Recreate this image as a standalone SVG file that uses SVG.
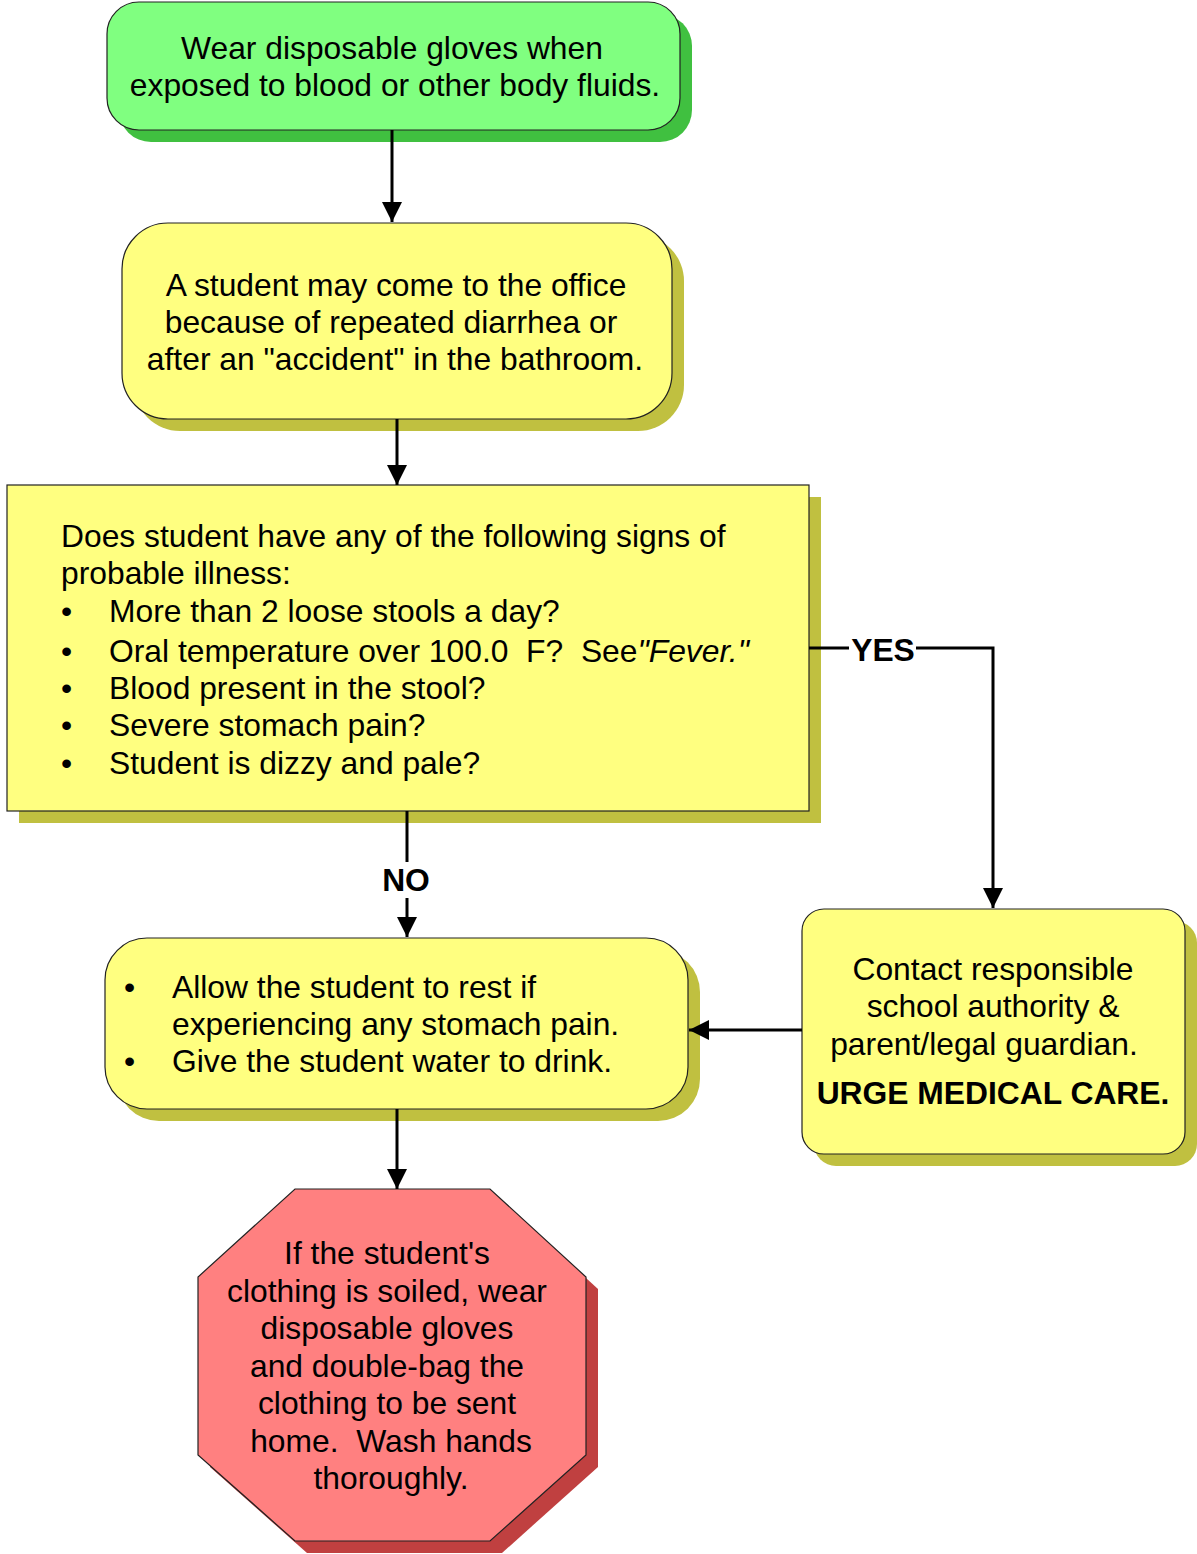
<svg xmlns="http://www.w3.org/2000/svg" width="1197" height="1554" viewBox="0 0 1197 1554">
<defs>
<style>
.t{font-family:"Liberation Sans",Arial,sans-serif;font-size:31.8px;fill:#000}
.c{text-anchor:middle}
.b{font-weight:bold}
.edge{stroke:#000;stroke-width:3;fill:none}
.bd{stroke:#222;stroke-width:1.2}
</style>
<marker id="ah" viewBox="0 0 20 20" refX="20" refY="10" markerWidth="20" markerHeight="20" markerUnits="userSpaceOnUse" orient="auto">
<path d="M0,0 L20,10 L0,20 Z" fill="#000"/>
</marker>
</defs>
<rect width="1197" height="1554" fill="#fff"/>

<g id="node-gloves">
<rect x="119" y="14" width="573" height="128" rx="32" fill="#40C040"/>
<rect x="107" y="2" width="573" height="128" rx="32" fill="#80FF80" class="bd"/>
<text class="t c" x="392" y="59">Wear disposable gloves when</text>
<text class="t c" x="395" y="96">exposed to blood or other body fluids.</text>
</g>

<g id="node-office">
<rect x="134" y="235" width="550" height="196" rx="46" fill="#C0C040"/>
<rect x="122" y="223" width="550" height="196" rx="46" fill="#FFFF80" class="bd"/>
<text class="t c" x="396" y="296">A student may come to the office</text>
<text class="t c" x="391" y="333">because of repeated diarrhea or</text>
<text class="t c" x="395" y="370">after an "accident" in the bathroom.</text>
</g>

<g id="node-signs">
<rect x="19" y="497" width="802" height="326" fill="#C0C040"/>
<rect x="7" y="485" width="802" height="326" fill="#FFFF80" class="bd"/>
<text class="t" x="61" y="547">Does student have any of the following signs of</text>
<text class="t" x="61" y="584">probable illness:</text>
<text class="t" x="61" y="622">•</text><text class="t" x="109" y="622">More than 2 loose stools a day?</text>
<text class="t" x="61" y="662">•</text><text class="t" x="109" y="662" xml:space="preserve">Oral temperature over 100.0  F?  See<tspan font-style="italic">"Fever."</tspan></text>
<text class="t" x="61" y="699">•</text><text class="t" x="109" y="699">Blood present in the stool?</text>
<text class="t" x="61" y="736">•</text><text class="t" x="109" y="736">Severe stomach pain?</text>
<text class="t" x="61" y="774">•</text><text class="t" x="109" y="774">Student is dizzy and pale?</text>
</g>

<g id="node-rest">
<rect x="117" y="950" width="583" height="171" rx="42" fill="#C0C040"/>
<rect x="105" y="938" width="583" height="171" rx="42" fill="#FFFF80" class="bd"/>
<text class="t" x="124" y="998">•</text><text class="t" x="172" y="998">Allow the student to rest if</text>
<text class="t" x="172" y="1035">experiencing any stomach pain.</text>
<text class="t" x="124" y="1072">•</text><text class="t" x="172" y="1072">Give the student water to drink.</text>
</g>

<g id="node-contact">
<rect x="814" y="921" width="383" height="245" rx="22" fill="#C0C040"/>
<rect x="802" y="909" width="383" height="245" rx="22" fill="#FFFF80" class="bd"/>
<text class="t c" x="993" y="980">Contact responsible</text>
<text class="t c" x="993" y="1017">school authority &amp;</text>
<text class="t c" x="984" y="1055">parent/legal guardian.</text>
<text class="t c b" x="993" y="1104">URGE MEDICAL CARE.</text>
</g>

<g id="node-clothing">
<polygon points="307,1201 502,1201 598,1289 598,1467 502,1553 307,1553 210,1467 210,1289" fill="#C04040"/>
<polygon points="295,1189 490,1189 586,1277 586,1455 490,1541 295,1541 198,1455 198,1277" fill="#FF8080" class="bd"/>
<text class="t c" x="387" y="1264">If the student's</text>
<text class="t c" x="387" y="1302">clothing is soiled, wear</text>
<text class="t c" x="387" y="1339">disposable gloves</text>
<text class="t c" x="387" y="1377">and double-bag the</text>
<text class="t c" x="387" y="1414">clothing to be sent</text>
<text class="t c" x="391" y="1452" xml:space="preserve">home.  Wash hands</text>
<text class="t c" x="391" y="1489">thoroughly.</text>
</g>

<g id="connectors">
<line class="edge" x1="392" y1="130" x2="392" y2="222" marker-end="url(#ah)"/>
<line class="edge" x1="397" y1="419" x2="397" y2="485" marker-end="url(#ah)"/>
<line class="edge" x1="407" y1="811" x2="407" y2="862"/>
<line class="edge" x1="407" y1="898" x2="407" y2="937" marker-end="url(#ah)"/>
<text class="t c b" x="406" y="891">NO</text>
<line class="edge" x1="809" y1="648" x2="849" y2="648"/>
<polyline class="edge" points="916,648 993,648 993,908" marker-end="url(#ah)"/>
<text class="t c b" x="883" y="661">YES</text>
<line class="edge" x1="802" y1="1030" x2="689" y2="1030" marker-end="url(#ah)"/>
<line class="edge" x1="397" y1="1109" x2="397" y2="1189" marker-end="url(#ah)"/>
</g>
</svg>
